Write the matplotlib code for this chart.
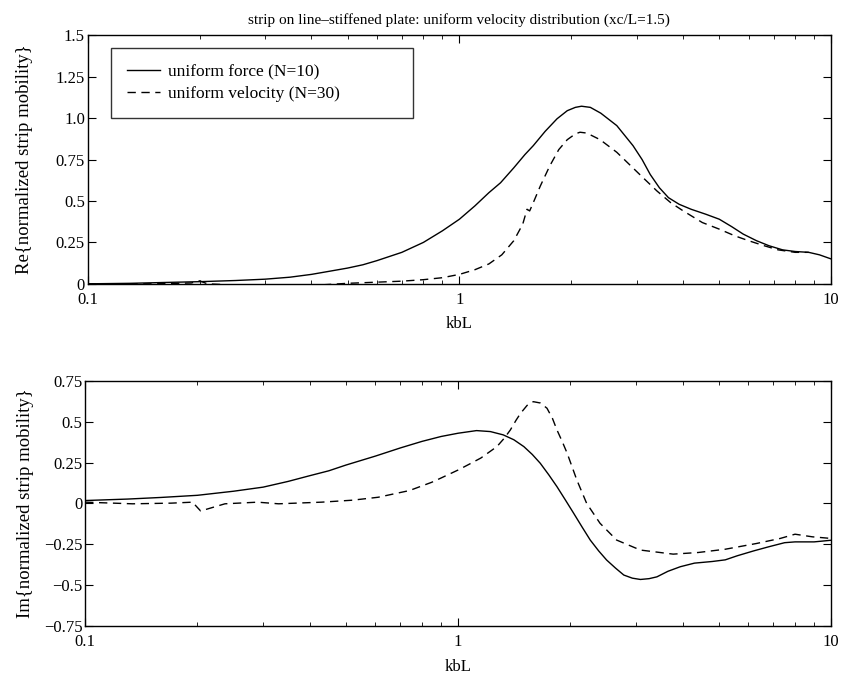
import matplotlib.pyplot as plt
from matplotlib.ticker import FixedLocator, LogLocator, NullFormatter

plt.rcParams['font.family'] = ['Liberation Serif', 'DejaVu Serif']

# Re{} uniform force (N=10)
re_force_x = [0.1, 0.13, 0.16, 0.2, 0.25, 0.3, 0.35, 0.4, 0.45, 0.5, 0.55, 0.6, 0.7, 0.8, 0.9,
              1.0, 1.1, 1.2, 1.29, 1.4, 1.5, 1.58, 1.7, 1.83, 1.95, 2.05, 2.13, 2.25, 2.4, 2.65,
              2.93, 3.1, 3.26, 3.45, 3.65, 3.9, 4.2, 4.6, 5.0, 5.4, 5.8, 6.3, 6.8, 7.4, 8.0,
              8.7, 9.3, 10.0]
re_force_y = [0.0, 0.003, 0.008, 0.013, 0.02, 0.028, 0.04, 0.057, 0.077, 0.095, 0.115, 0.14,
              0.19, 0.25, 0.32, 0.39, 0.47, 0.55, 0.61, 0.7, 0.78, 0.834, 0.92, 0.996, 1.045,
              1.065, 1.072, 1.065, 1.03, 0.955, 0.834, 0.75, 0.66, 0.58, 0.52, 0.48, 0.45,
              0.42, 0.39, 0.345, 0.3, 0.26, 0.23, 0.205, 0.195, 0.19, 0.175, 0.15]

# Re{} uniform velocity (N=30)
re_vel_x = [0.1, 0.15, 0.19, 0.2, 0.21, 0.25, 0.3, 0.4, 0.5, 0.6, 0.7, 0.8, 0.9, 1.0, 1.1, 1.2,
            1.3, 1.4, 1.48, 1.52, 1.545, 1.58, 1.65, 1.75, 1.85, 1.95, 2.05, 2.11, 2.2, 2.39,
            2.65, 3.12, 3.4, 3.7, 4.0, 4.5, 5.0, 5.5, 6.0, 6.6, 7.2, 8.0, 8.7]
re_vel_y = [0.0, 0.0, 0.005, 0.018, 0.0, -0.008, -0.012, -0.01, 0.003, 0.01, 0.016, 0.025,
            0.037, 0.057, 0.085, 0.12, 0.175, 0.26, 0.36, 0.45, 0.44, 0.49, 0.59, 0.712, 0.81,
            0.87, 0.905, 0.915, 0.91, 0.87, 0.794, 0.64, 0.56, 0.49, 0.44, 0.37, 0.33, 0.29,
            0.26, 0.23, 0.205, 0.19, 0.19]

# Im{} uniform force (N=10)
im_force_x = [0.1, 0.13, 0.16, 0.2, 0.25, 0.3, 0.35, 0.4, 0.45, 0.5, 0.6, 0.7, 0.8, 0.9, 1.0,
              1.12, 1.22, 1.32, 1.41, 1.5, 1.58, 1.66, 1.75, 1.84, 1.94, 2.04, 2.15, 2.26, 2.38,
              2.5, 2.64, 2.78, 2.93, 3.08, 3.25, 3.41, 3.65, 3.94, 4.3, 4.8, 5.2, 5.6, 6.2, 6.8,
              7.5, 8.0, 9.0, 10.0]
im_force_y = [0.018, 0.027, 0.037, 0.05, 0.075, 0.1, 0.135, 0.17, 0.2, 0.235, 0.29, 0.34, 0.38,
              0.41, 0.43, 0.446, 0.44, 0.42, 0.39, 0.348, 0.3, 0.246, 0.175, 0.103, 0.02, -0.06,
              -0.145, -0.224, -0.29, -0.346, -0.395, -0.438, -0.457, -0.465, -0.46, -0.449,
              -0.415, -0.387, -0.365, -0.355, -0.345, -0.32, -0.29, -0.265, -0.24, -0.235,
              -0.235, -0.225]

# Im{} uniform velocity (N=30)
im_vel_x = [0.1, 0.134, 0.17, 0.194, 0.204, 0.237, 0.29, 0.33, 0.43, 0.52, 0.61, 0.74, 0.85,
            0.9, 1.0, 1.07, 1.15, 1.27, 1.33, 1.38, 1.43, 1.47, 1.53, 1.59, 1.66, 1.73, 1.79,
            1.84, 1.9, 1.96, 2.08, 2.21, 2.4, 2.66, 3.08, 3.77, 4.4, 5.2, 6.3, 7.3, 8.0, 8.9,
            10.0]
im_vel_y = [0.008, -0.002, 0.002, 0.008, -0.046, -0.002, 0.008, -0.002, 0.008, 0.02, 0.038,
            0.079, 0.13, 0.156, 0.205, 0.24, 0.278, 0.348, 0.4, 0.45, 0.51, 0.552, 0.6, 0.623,
            0.615, 0.583, 0.52, 0.45, 0.38, 0.307, 0.144, 0.001, -0.121, -0.224, -0.285, -0.31,
            -0.30, -0.28, -0.245, -0.214, -0.188, -0.204, -0.214]

re_ticks = [0, 0.25, 0.5, 0.75, 1.0, 1.25, 1.5]
re_labels = ['0', '0.25', '0.5', '0.75', '1.0', '1.25', '1.5']
im_ticks = [-0.75, -0.5, -0.25, 0, 0.25, 0.5, 0.75]
im_labels = ['\u22120.75', '\u22120.5', '\u22120.25', '0', '0.25', '0.5', '0.75']

fig = plt.figure(figsize=(8.43, 6.79), dpi=100)
ax1 = fig.add_axes([0.104, 0.582, 0.882, 0.366])
ax2 = fig.add_axes([0.101, 0.078, 0.885, 0.361])

lw = 1.0
dash = (0, (6, 4))


def style_axis(ax, ticks, labels, ylim, ylabel, label_x):
    ax.set_xscale('log')
    ax.set_xlim(0.1, 10)
    ax.set_ylim(*ylim)
    ax.xaxis.set_major_locator(FixedLocator([0.1, 1, 10]))
    ax.set_xticklabels(['0.1', '1', '10'])
    ax.xaxis.set_minor_locator(LogLocator(base=10, subs=range(2, 10)))
    ax.xaxis.set_minor_formatter(NullFormatter())
    ax.set_yticks(ticks)
    ax.set_yticklabels(labels)
    ax.tick_params(which='both', direction='in', top=True, right=True, labelsize=12, pad=2)
    ax.tick_params(axis='x', which='major', pad=6)
    ax.tick_params(which='major', length=6)
    ax.tick_params(which='minor', length=3)
    ax.set_xlabel('kbL', fontsize=12, labelpad=6)
    ax.set_ylabel(ylabel, fontsize=13.5)
    ax.yaxis.set_label_coords(label_x, 0.5)
    for s in ax.spines.values():
        s.set_linewidth(1.0)


ax1.plot(re_force_x, re_force_y, color='black', lw=lw, label='uniform force (N=10)')
ax1.plot(re_vel_x, re_vel_y, color='black', lw=lw, linestyle=dash, label='uniform velocity (N=30)')
style_axis(ax1, re_ticks, re_labels, (0, 1.5), 'Re{normalized strip mobility}', -0.073)
ax1.set_title('strip on line\u2013stiffened plate: uniform velocity distribution (xc/L=1.5)',
              fontsize=11, pad=8)
leg = ax1.legend(loc='upper left', bbox_to_anchor=(0.032, 0.0, 0.406, 0.948), mode='expand',
                 fontsize=12.5, frameon=True, fancybox=False, edgecolor='black',
                 handlelength=1.9, borderpad=0.9, labelspacing=0.35, handletextpad=0.45,
                 borderaxespad=0.0)
leg.get_frame().set_linewidth(1.0)

ax2.plot(im_force_x, im_force_y, color='black', lw=lw)
ax2.plot(im_vel_x, im_vel_y, color='black', lw=lw, linestyle=dash)
style_axis(ax2, im_ticks, im_labels, (-0.75, 0.75), 'Im{normalized strip mobility}', -0.069)

fig.savefig('out.png', dpi=100)
